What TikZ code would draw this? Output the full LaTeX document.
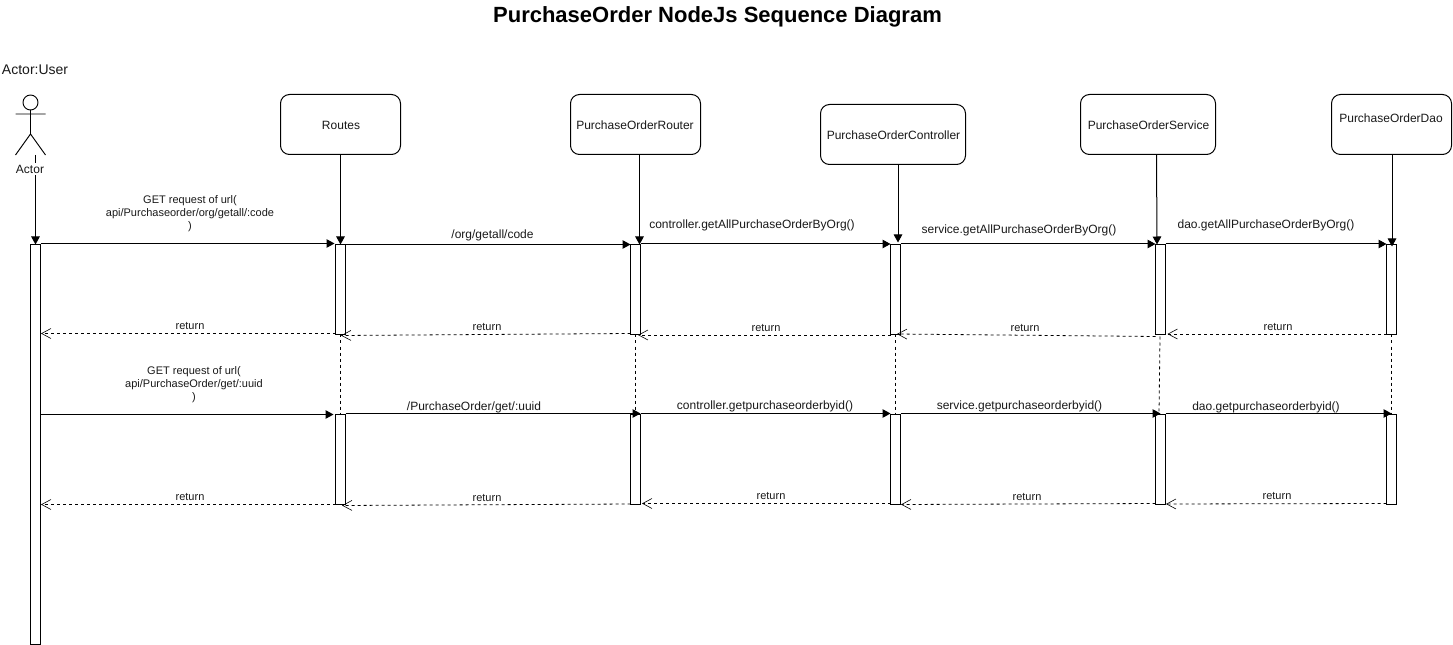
\documentclass[tikz,border=0pt]{standalone}
\usepackage{fontspec}
\setmainfont{Liberation Sans}
\usetikzlibrary{arrows.meta,calc}
\tikzset{
  every node/.style={inner sep=0pt,outer sep=0pt,text=black!90},
  lbl/.style={font=\fontsize{8.25}{9.75}\selectfont,align=center,yshift=-.75pt},
  txt/.style={font=\fontsize{9}{10.5}\selectfont,align=center},
  box/.style={draw,rounded corners=6.75pt,line width=.75pt,anchor=north west,fill=white},
  bar/.style={draw,line width=.75pt,anchor=north west,fill=white,minimum width=7.5pt},
  sync/.style={line width=.75pt,-{Triangle[length=6pt,width=6.4pt]}},
  ret/.style={line width=.6pt,dash pattern=on 2.25pt off 2.25pt,-{Straight Barb[length=7pt,width=7.5pt,line width=.45pt]}},
  lifeline/.style={line width=.6pt,dash pattern=on 2.25pt off 2.25pt},
}
\begin{document}
\begin{tikzpicture}[x=.75pt,y=-.75pt]
\useasboundingbox (0,0) rectangle (1453,645);
% boxes
\node[box,minimum width=90pt,minimum height=45pt] (routes) at (280.5,94.5) {};
\node[box,minimum width=97.5pt,minimum height=45pt] (router) at (570.5,94.5) {};
\node[box,minimum width=108.75pt,minimum height=45pt] (ctrl) at (820.5,104.5) {};
\node[box,minimum width=101.25pt,minimum height=45pt] (svc) at (1080.5,94.5) {};
\node[box,minimum width=90pt,minimum height=45pt] (dao) at (1331.5,94.5) {};
\node[txt] (troutes) at (341,125) {Routes};
\node[txt] (trouter) at (635,125) {PurchaseOrderRouter};
\node[txt] (tctrl) at (893.5,135) {PurchaseOrderController};
\node[txt] (tsvc) at (1148.5,125) {PurchaseOrderService};
\node[txt] (tdao) at (1391,118) {PurchaseOrderDao};
% actor
\node[draw,circle,minimum size=11.25pt,line width=.7pt] (head) at (30.5,102.5) {};
\coordinate (hip) at (30.5,134);
\coordinate (armL) at (15.5,114);
\coordinate (armR) at (45.5,114);
\coordinate (legL) at (15.5,155);
\coordinate (legR) at (45.5,155);
\coordinate (foot) at (35.5,155);
\draw[line width=.7pt] (head.south) -- (hip) (armL) -- (armR) (legL) -- (hip) -- (legR);
% bars
\node[bar,minimum height=300pt] (a0a) at (30.5,244.5) {};
\foreach \n/\x in {r1/335.5,r2/630.5,r3/890.5,r4/1155.5,r5/1386.5}{
  \node[bar,minimum height=67.5pt] (\n a) at (\x,244.5) {};
  \node[bar,minimum height=67.5pt] (\n b) at (\x,414.5) {};
}
% lifelines from heads
\draw[sync] (foot) -- ($(a0a.north east)+(-5,0)$);
\node[txt,fill=white,inner ysep=1.5pt] (tactor) at (30,169) {Actor};
\draw[sync] (routes.south) -- (r1a.north);
\draw[sync] ($(router.south)+(4,0)$) -- ($(r2a.north)+(4,0)$);
\draw[sync] ($(ctrl.south)+(5,0)$) -- ($(r3a.north)+(2.5,-2)$);
\draw[sync] ($(svc.south)+(8.5,0)$) -- ($(r4a.north)+(-3.5,0)$);
\draw[sync] ($(dao.south)+(.5,0)$) -- ($(r5a.north)+(.5,2)$);
% dashed links between bars
\draw[lifeline] (r1a.south) -- (r1b.north);
\draw[lifeline] ($(r2a.south)+(-.5,0)$) -- ($(r2b.north)+(-.5,0)$);
\draw[lifeline] (r3a.south) -- (r3b.north);
\draw[lifeline] ($(r4a.south)+(-.5,2)$) -- ($(r4b.north)+(-1.5,0)$);
\draw[lifeline] (r5a.south) -- (r5b.north);
% calls row 1
\draw[sync] ($(a0a.north east)+(0,-1)$) -- ($(r1a.north west)+(-1,-1)$);
\draw[sync] (r1a.north east) -- (r2a.north west);
\draw[sync] ($(r2a.north east)+(0,-.5)$) -- ($(r3a.north west)+(0,-.5)$);
\draw[sync] ($(r3a.north east)+(0,-.5)$) -- ($(r4a.north west)+(0,-.5)$);
\draw[sync] ($(r4a.north east)+(0,-.5)$) -- ($(r5a.north west)+(0,-.5)$);
% returns row 1
\draw[ret] ($(r1a.south west)+(0,-1)$) -- ($(a0a.north east)+(.5,89)$);
\draw[ret] ($(r2a.south west)+(0,-1)$) -- ($(r1a.south)+(.5,1)$);
\draw[ret] ($(r3a.south west)+(0,.5)$) -- ($(r2a.south east)+(-2.5,.5)$);
\draw[ret] ($(r4a.south west)+(0,2)$) -- ($(r3a.south)+(1.5,-.5)$);
\draw[ret] ($(r5a.south west)+(0,-.5)$) -- ($(r4a.south east)+(2,-.5)$);
% calls row 2
\draw[sync] ($(a0a.north east)+(0,170)$) -- ($(r1b.north west)+(-2,0)$);
\draw[sync] ($(r1b.north east)+(0,-1)$) -- ($(r2b.north east)+(0,-1)$);
\draw[sync] ($(r2b.north east)+(0,-1)$) -- ($(r3b.north west)+(0,-1)$);
\draw[sync] ($(r3b.north east)+(0,-1)$) -- ($(r4b.north)+(0,-1)$);
\draw[sync] ($(r4b.north east)+(0,-1)$) -- ($(r5b.north)+(0,-1)$);
% returns row 2
\draw[ret] (r1b.south west) -- ($(a0a.north east)+(.5,260)$);
\draw[ret] ($(r2b.south west)+(0,-.5)$) -- ($(r1b.south)+(1.5,1)$);
\draw[ret] ($(r3b.south west)+(0,-1)$) -- ($(r2b.south east)+(1.5,-1)$);
\draw[ret] ($(r4b.south west)+(0,-1)$) -- ($(r3b.south east)+(.5,0)$);
\draw[ret] ($(r5b.south west)+(0,-1)$) -- ($(r4b.south east)+(.5,-.5)$);
% labels
\node[font=\fontsize{16.5}{20}\selectfont\bfseries,text=black] (title) at (717.5,16.5) {PurchaseOrder NodeJs Sequence Diagram};
\node[font=\fontsize{10.5}{12}\selectfont,anchor=west] (actoruser) at (2,70) {Actor:User};
\node[lbl] (m1) at (190,213) {GET request of url(\\api/Purchaseorder/org/getall/:code\\)};
\node[lbl] (m2) at (194,384) {GET request of url(\\api/PurchaseOrder/get/:uuid\\)};
\node[txt] (c1) at (492.5,235.5) {/org/getall/code};
\node[txt] (c2) at (752,225.5) {controller.getAllPurchaseOrderByOrg()};
\node[txt] (c3) at (1019,230.5) {service.getAllPurchaseOrderByOrg()};
\node[txt] (c4) at (1266,225.5) {dao.getAllPurchaseOrderByOrg()};
\node[txt] (d1) at (474,407) {/PurchaseOrder/get/:uuid};
\node[txt] (d2) at (765,406.5) {controller.getpurchaseorderbyid()};
\node[txt] (d3) at (1019.5,406.5) {service.getpurchaseorderbyid()};
\node[txt] (d4) at (1266,407) {dao.getpurchaseorderbyid()};
\foreach \i/\x/\y in {1/190/325,2/487/326,3/766/327,4/1025/327,5/1278/326,6/190/496,7/487/497,8/771/495,9/1027/496,10/1277/495}{
  \node[lbl] (ret\i) at (\x,\y) {return};
}
\end{tikzpicture}
\end{document}
